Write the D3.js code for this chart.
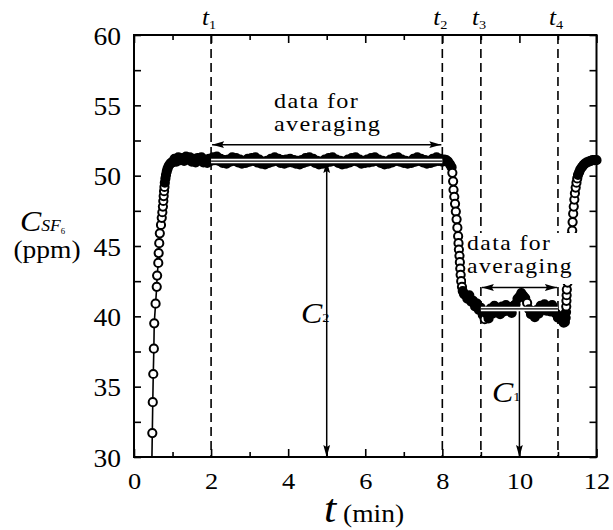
<!DOCTYPE html>
<html><head><meta charset="utf-8">
<script src="https://cdn.jsdelivr.net/npm/d3@7"></script>
<style>
body{margin:0;background:#fff}
svg{display:block}
text{font-family:"Liberation Serif","Times New Roman",serif;fill:#000}
</style>
</head><body>
<svg id="chart" width="613" height="530"></svg>
<script>
// ---------------- data ----------------
const riseT = [0.46,0.475,0.487,0.50,0.515,0.525,0.56,0.59,0.60,0.63,0.64,0.655,0.67,0.70,0.72,0.735,0.75,0.76,0.77,0.78,0.79,0.80,0.815,0.83,0.85,0.87,0.90,0.94,0.98];
const riseC = [29.0,31.7,33.9,35.9,37.7,39.5,40.9,42.1,42.9,43.8,44.5,45.2,45.9,46.5,47.0,47.4,47.8,48.2,48.55,48.9,49.2,49.5,49.8,50.05,50.3,50.5,50.7,50.85,50.95];

const plateau1T = [1.00,1.05,1.10,1.15,1.20,1.25,1.30,1.35,1.40,1.45,1.50,1.55,1.60,1.65,1.70,1.75,1.80,1.85,1.90,1.95,2.00,
2.05,2.10,2.15,2.20,2.25,2.30,2.35,2.40,2.45,2.50,2.55,2.60,2.65,2.70,2.75,2.80,2.85,2.90,2.95,3.00,
3.05,3.10,3.15,3.20,3.25,3.30,3.35,3.40,3.45,3.50,3.55,3.60,3.65,3.70,3.75,3.80,3.85,3.90,3.95,4.00,
4.05,4.10,4.15,4.20,4.25,4.30,4.35,4.40,4.45,4.50,4.55,4.60,4.65,4.70,4.75,4.80,4.85,4.90,4.95,5.00,
5.05,5.10,5.15,5.20,5.25,5.30,5.35,5.40,5.45,5.50,5.55,5.60,5.65,5.70,5.75,5.80,5.85,5.90,5.95,6.00,
6.05,6.10,6.15,6.20,6.25,6.30,6.35,6.40,6.45,6.50,6.55,6.60,6.65,6.70,6.75,6.80,6.85,6.90,6.95,7.00,
7.05,7.10,7.15,7.20,7.25,7.30,7.35,7.40,7.45,7.50,7.55,7.60,7.65,7.70,7.75,7.80,7.85,7.90,7.95,8.00,8.05];
const plateau1C = [50.95,51.20,51.00,51.30,51.10,51.25,51.05,51.35,51.15,51.30,51.00,51.20,50.95,51.25,51.10,51.30,50.95,51.15,50.90,51.20,51.05,
51.30,51.10,51.35,51.05,51.20,50.90,51.10,50.85,51.15,51.00,51.30,51.05,51.25,50.95,51.15,50.85,51.05,50.90,51.20,51.00,
51.25,51.05,51.30,50.95,51.15,50.85,51.00,50.80,51.05,50.90,51.20,51.00,51.30,51.05,51.20,50.90,51.10,50.85,51.15,50.95,
51.20,50.95,51.10,50.85,51.05,50.80,51.10,50.90,51.25,51.00,51.30,51.05,51.20,50.90,51.05,50.80,51.00,50.85,51.15,50.95,
51.25,51.00,51.30,51.05,51.15,50.90,51.05,50.80,51.00,50.85,51.15,50.95,51.25,51.05,51.30,51.00,51.15,50.85,51.05,50.90,
51.15,50.95,51.25,51.00,51.30,51.05,51.15,50.90,51.05,50.80,51.00,50.85,51.15,50.95,51.25,51.05,51.30,51.00,51.15,50.90,
51.05,50.85,51.00,50.90,51.20,51.00,51.30,51.05,51.20,50.95,51.10,50.85,51.05,50.90,51.20,51.00,51.30,51.05,51.20,51.00,51.15];

const dropT = [8.10,8.15,8.20,8.24,8.26,8.28,8.29,8.31,8.33,8.35,8.37,8.39,8.41,8.42,8.43,8.445,8.455,8.465,8.475,8.49,8.51,8.53,8.56,8.60,8.65,8.70,8.75,8.80,8.85,8.90,8.95,9.00];
const dropC = [51.1,51.0,50.8,50.6,50.2,49.6,49.0,48.5,48.0,47.45,46.9,46.3,45.7,45.2,44.75,44.3,43.85,43.4,42.95,42.5,42.1,41.8,41.6,41.5,41.25,41.5,41.05,41.1,40.7,40.9,40.45,40.6];

const plateau2T = [9.05,9.10,9.15,9.20,9.25,9.30,9.35,9.40,9.45,9.50,9.55,9.60,9.65,9.70,9.75,9.80,9.85,9.90,9.95,10.00,
10.05,10.10,10.15,10.20,10.25,10.30,10.35,10.40,10.45,10.50,10.55,10.60,10.65,10.70,10.75,10.80,10.85,10.90,10.95,11.00];
const plateau2C = [40.1,39.8,40.2,39.85,40.55,40.2,40.75,40.3,40.6,40.15,40.7,40.35,40.8,40.4,40.65,40.25,40.75,40.85,41.25,41.4,
41.65,41.45,41.3,40.95,40.5,40.15,40.35,39.95,40.45,40.2,40.75,40.45,40.85,40.4,40.7,40.35,40.8,40.3,40.2,39.9];

const rise2T = [11.05,11.10,11.15,11.18,11.20,11.21,11.215,11.22,11.225,11.23,11.25,11.27,11.28,11.29,11.30,11.32,11.33,11.35,11.37,11.38,11.395,11.41,11.425,11.44,11.46,11.48,11.50,11.52,11.55,11.58,11.62,11.66,11.70,11.75,11.80,11.85,11.90,11.95,12.00];
const rise2C = [40.0,39.75,39.55,39.6,39.9,40.3,40.7,41.1,41.5,41.9,42.4,42.9,43.4,43.9,44.4,44.9,45.4,45.8,46.1,46.7,47.3,47.8,48.3,48.75,49.15,49.5,49.8,50.05,50.25,50.45,50.6,50.75,50.85,50.95,51.0,51.05,51.1,51.1,51.1];

const xMajorTicks = [0,2,4,6,8,10,12];
const xMinorTicks = [1,3,5,7,9,11];
const yMajorTicks = [30,35,40,45,50,55,60];
const yMinorTicks = [32.5,37.5,42.5,47.5,52.5,57.5];

const markTimes = [2,8,9,11];
const markLabels = ["1","2","3","4"];
const mean2 = 51.04, mean1 = 40.53;      // averaged levels C2, C1
const avgWindow2 = [2,8], avgWindow1 = [9,11];
const arrowLevel2 = 52.2, arrowLevel1 = 42.05;
const c2Time = 5, c1Time = 10;

// ---------------- chart ----------------
const svg = d3.select('#chart');
const x = d3.scaleLinear().domain([0,12]).range([134,596.5]);
const y = d3.scaleLinear().domain([30,60]).range([457,35]);
const SX = 1.1;  // horizontal stretch of the reference lettering

const defs = svg.append('defs');
defs.append('clipPath').attr('id','clip').append('rect')
  .attr('x', x(0)).attr('y', y(60)).attr('width', x(12)-x(0)+12).attr('height', y(30)-y(60));
defs.append('marker').attr('id','ah').attr('viewBox','0 0 12 8')
  .attr('refX',12).attr('refY',4).attr('markerWidth',12).attr('markerHeight',8)
  .attr('markerUnits','userSpaceOnUse').attr('orient','auto-start-reverse')
  .append('path').attr('d','M0,0.6 L12,4 L0,7.4 L2,4 Z').attr('fill','#000');

function label(g, px, py, parts, anchor, size){
  const t = g.append('text').attr('transform',`translate(${px},${py}) scale(${SX},1)`)
    .attr('text-anchor', anchor||'start').attr('font-size', size||24);
  parts.forEach(p=>{
    const ts = t.append('tspan').text(p.t);
    if(p.size) ts.attr('font-size',p.size);
    if(p.it) ts.attr('font-style','italic');
    if(p.dy) ts.attr('dy',p.dy);
    if(p.dx) ts.attr('dx',p.dx);
  });
  return t;
}

// dashed marker lines
svg.append('g').selectAll('line').data(markTimes).join('line')
  .attr('x1',d=>x(d)).attr('x2',d=>x(d)).attr('y1',y(60)).attr('y2',y(30))
  .attr('stroke','#000').attr('stroke-width',1.6).attr('stroke-dasharray','9,5');

// vertical C arrows (beneath data)
svg.append('line').attr('x1',x(c2Time)).attr('x2',x(c2Time)).attr('y1',y(mean2)).attr('y2',y(30))
  .attr('stroke','#000').attr('stroke-width',1.5).attr('marker-start','url(#ah)').attr('marker-end','url(#ah)');
svg.append('line').attr('x1',x(c1Time)).attr('x2',x(c1Time)).attr('y1',y(mean1)).attr('y2',y(30))
  .attr('stroke','#000').attr('stroke-width',1.5).attr('marker-end','url(#ah)');

// data
const tAll = [].concat(riseT, plateau1T, dropT, plateau2T, rise2T);
const cAll = [].concat(riseC, plateau1C, dropC, plateau2C, rise2C);
const pts = tAll.map((t,i)=>({t, c:cAll[i], px:x(t), py:y(cAll[i])}));
// heavily overplotted markers merge into a solid band
pts.forEach((p,i)=>{
  let n = 0;
  for(let j=Math.max(0,i-6); j<=Math.min(pts.length-1,i+6); j++){
    if(j!==i && Math.hypot(p.px-pts[j].px, p.py-pts[j].py) < 9) n++;
  }
  p.dense = n >= 4;
});
const dataG = svg.append('g').attr('clip-path','url(#clip)');
dataG.append('path').datum(pts)
  .attr('d', d3.line().x(d=>d.px).y(d=>d.py))
  .attr('fill','none').attr('stroke','#000').attr('stroke-width',1.6);
dataG.append('g').selectAll('circle').data(pts).join('circle')
  .attr('cx',d=>d.px).attr('cy',d=>d.py).attr('r',4.1)
  .attr('fill',d=>d.dense?'#000':'#fff').attr('stroke','#000').attr('stroke-width',2);

// mean lines (white with thin black core)
[[avgWindow2, mean2],[avgWindow1, mean1]].forEach(([w,m])=>{
  svg.append('line').attr('x1',x(w[0])).attr('x2',x(w[1])).attr('y1',y(m)).attr('y2',y(m))
    .attr('stroke','#fff').attr('stroke-width',4.5);
  svg.append('line').attr('x1',x(w[0])).attr('x2',x(w[1])).attr('y1',y(m)).attr('y2',y(m))
    .attr('stroke','#000').attr('stroke-width',1.2);
});

// white box behind right annotation
svg.append('rect').attr('x',466).attr('y',233).attr('width',114).attr('height',51).attr('fill','#fff');

// horizontal "data for averaging" arrows
[[avgWindow2, arrowLevel2],[avgWindow1, arrowLevel1]].forEach(([w,l])=>{
  svg.append('line').attr('x1',x(w[0])+1).attr('x2',x(w[1])-1).attr('y1',y(l)).attr('y2',y(l))
    .attr('stroke','#000').attr('stroke-width',1.5).attr('marker-start','url(#ah)').attr('marker-end','url(#ah)');
});

const ann = svg.append('g');
label(ann, 274, 108, [{t:'data for'}], 'start', 22).attr('letter-spacing',1.2);
label(ann, 274, 131, [{t:'averaging'}], 'start', 22).attr('letter-spacing',1.2);
label(ann, 467, 250, [{t:'data for'}], 'start', 21.5).attr('letter-spacing',1.3);
label(ann, 467, 273, [{t:'averaging'}], 'start', 21.5).attr('letter-spacing',1.3);
label(ann, 301, 323, [{t:'C',it:true},{t:'2',size:13,dy:-1}], 'start', 29);
label(ann, 492, 402, [{t:'C',it:true},{t:'1',size:13,dy:-1}], 'start', 29);

// axes
function addAxis(axis, tr){
  const g = svg.append('g').attr('transform',tr).call(axis);
  g.select('.domain').remove();
  g.selectAll('line').attr('stroke','#000').attr('stroke-width',1.6);
  return g;
}
const gxb = addAxis(d3.axisBottom(x).tickValues(xMajorTicks).tickSizeInner(-8).tickSizeOuter(0).tickFormat(d3.format('d')), `translate(0,${y(30)})`);
addAxis(d3.axisBottom(x).tickValues(xMinorTicks).tickSizeInner(-5).tickSizeOuter(0).tickFormat(''), `translate(0,${y(30)})`);
addAxis(d3.axisTop(x).tickValues(xMajorTicks).tickSizeInner(-8).tickSizeOuter(0).tickFormat(''), `translate(0,${y(60)})`);
addAxis(d3.axisTop(x).tickValues(xMinorTicks).tickSizeInner(-5).tickSizeOuter(0).tickFormat(''), `translate(0,${y(60)})`);
const gyl = addAxis(d3.axisLeft(y).tickValues(yMajorTicks).tickSizeInner(-7).tickSizeOuter(0).tickFormat(d3.format('d')), `translate(${x(0)},0)`);
addAxis(d3.axisLeft(y).tickValues(yMinorTicks).tickSizeInner(-7).tickSizeOuter(0).tickFormat(''), `translate(${x(0)},0)`);
addAxis(d3.axisRight(y).tickValues(yMajorTicks).tickSizeInner(-7).tickSizeOuter(0).tickFormat(''), `translate(${x(12)},0)`);
addAxis(d3.axisRight(y).tickValues(yMinorTicks).tickSizeInner(-7).tickSizeOuter(0).tickFormat(''), `translate(${x(12)},0)`);

gxb.selectAll('text').attr('font-size',24)
  .attr('y',0).attr('dy',null).attr('transform',`translate(0,32) scale(${SX},1)`).attr('fill','#000');
gyl.selectAll('text').attr('font-size',25)
  .attr('x',0).attr('dy',null).attr('transform',`translate(-13,9) scale(${SX},1)`).attr('fill','#000');

svg.append('rect').attr('x',x(0)).attr('y',y(60)).attr('width',x(12)-x(0)).attr('height',y(30)-y(60))
  .attr('fill','none').attr('stroke','#000').attr('stroke-width',2);

// top t labels
markTimes.forEach((m,i)=>{
  label(svg, x(m)-9, 25, [{t:'t',it:true},{t:markLabels[i],size:13,dy:4}], 'start', 23);
});

// axis titles
label(svg, 20, 231, [{t:'C',it:true},{t:'SF',it:true,size:16},{t:'6',size:8,dy:3}], 'start', 29);
label(svg, 47, 258, [{t:'(ppm)'}], 'middle', 25);
label(svg, 324, 522, [{t:'t',it:true,size:40}], 'start', 40);
label(svg, 343, 522, [{t:'(min)'}], 'start', 25);
</script>
</body></html>
